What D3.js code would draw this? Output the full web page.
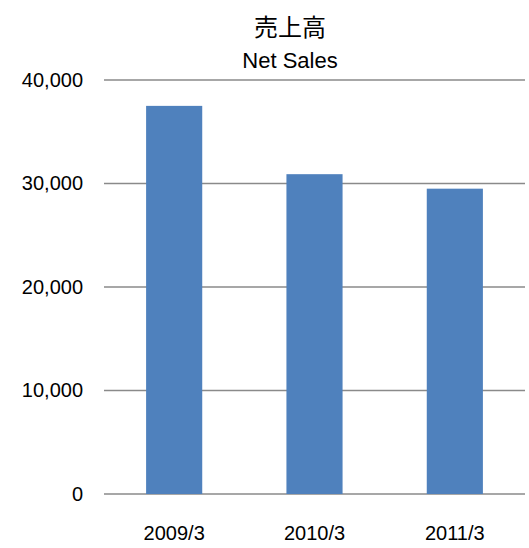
<!DOCTYPE html>
<html>
<head>
<meta charset="utf-8">
<script src="https://cdn.jsdelivr.net/npm/d3@7"></script>
<style>
  body { margin: 0; background: #fff; }
  text { font-family: "Liberation Sans", Arial, sans-serif; fill: #000; }
</style>
</head>
<body>
<div id="chart"></div>
<script>
// chart data
const years = ["2009/3", "2010/3", "2011/3"];
const netSales = [37500, 30900, 29500];
const yTicks = [0, 10000, 20000, 30000, 40000];

const W = 529, H = 548;
const margin = { top: 80, right: 4, bottom: 54, left: 104 };
const width = W - margin.left - margin.right;
const height = H - margin.top - margin.bottom;

const svg = d3.select("#chart")
    .append("svg")
    .attr("width", W)
    .attr("height", H);

const g = svg.append("g")
    .attr("transform", `translate(${margin.left}, ${margin.top})`);

const x = d3.scaleBand()
    .domain(years)
    .range([0, width])
    .paddingInner(0.6)
    .paddingOuter(0.3);

const y = d3.scaleLinear()
    .domain([0, 40000])
    .range([height, 0]);

// gridlines
g.selectAll(".grid")
    .data(yTicks)
    .enter()
    .append("line")
    .attr("x1", 0)
    .attr("x2", width)
    .attr("y1", d => y(d))
    .attr("y2", d => y(d))
    .attr("stroke", "#8a8a8a")
    .attr("stroke-width", 1.5);

// bars
g.selectAll(".bar")
    .data(netSales)
    .enter()
    .append("rect")
    .attr("x", (d, i) => x(years[i]))
    .attr("y", d => y(d))
    .attr("width", x.bandwidth())
    .attr("height", d => height - y(d))
    .attr("fill", "#4f81bd");

// y axis labels
const yAxis = g.append("g")
    .call(d3.axisLeft(y).tickValues(yTicks).tickFormat(d3.format(",")).tickSize(0).tickPadding(21));
yAxis.select(".domain").remove();
yAxis.selectAll("text")
    .style("font-size", "20px")
    .style("font-family", "'Liberation Sans', Arial, sans-serif");

// x axis labels
const xAxis = g.append("g")
    .attr("transform", `translate(0, ${height})`)
    .call(d3.axisBottom(x).tickSize(0).tickPadding(32));
xAxis.select(".domain").remove();
xAxis.selectAll("text")
    .style("font-size", "20px")
    .style("font-family", "'Liberation Sans', Arial, sans-serif");

// title
svg.append("text")
    .attr("x", 290)
    .attr("y", 36)
    .attr("text-anchor", "middle")
    .style("font-family", "'Noto Sans CJK JP', sans-serif")
    .style("font-size", "24px")
    .text("売上高");

svg.append("text")
    .attr("x", 290)
    .attr("y", 68)
    .attr("text-anchor", "middle")
    .style("font-size", "22px")
    .text("Net Sales");
</script>
</body>
</html>
